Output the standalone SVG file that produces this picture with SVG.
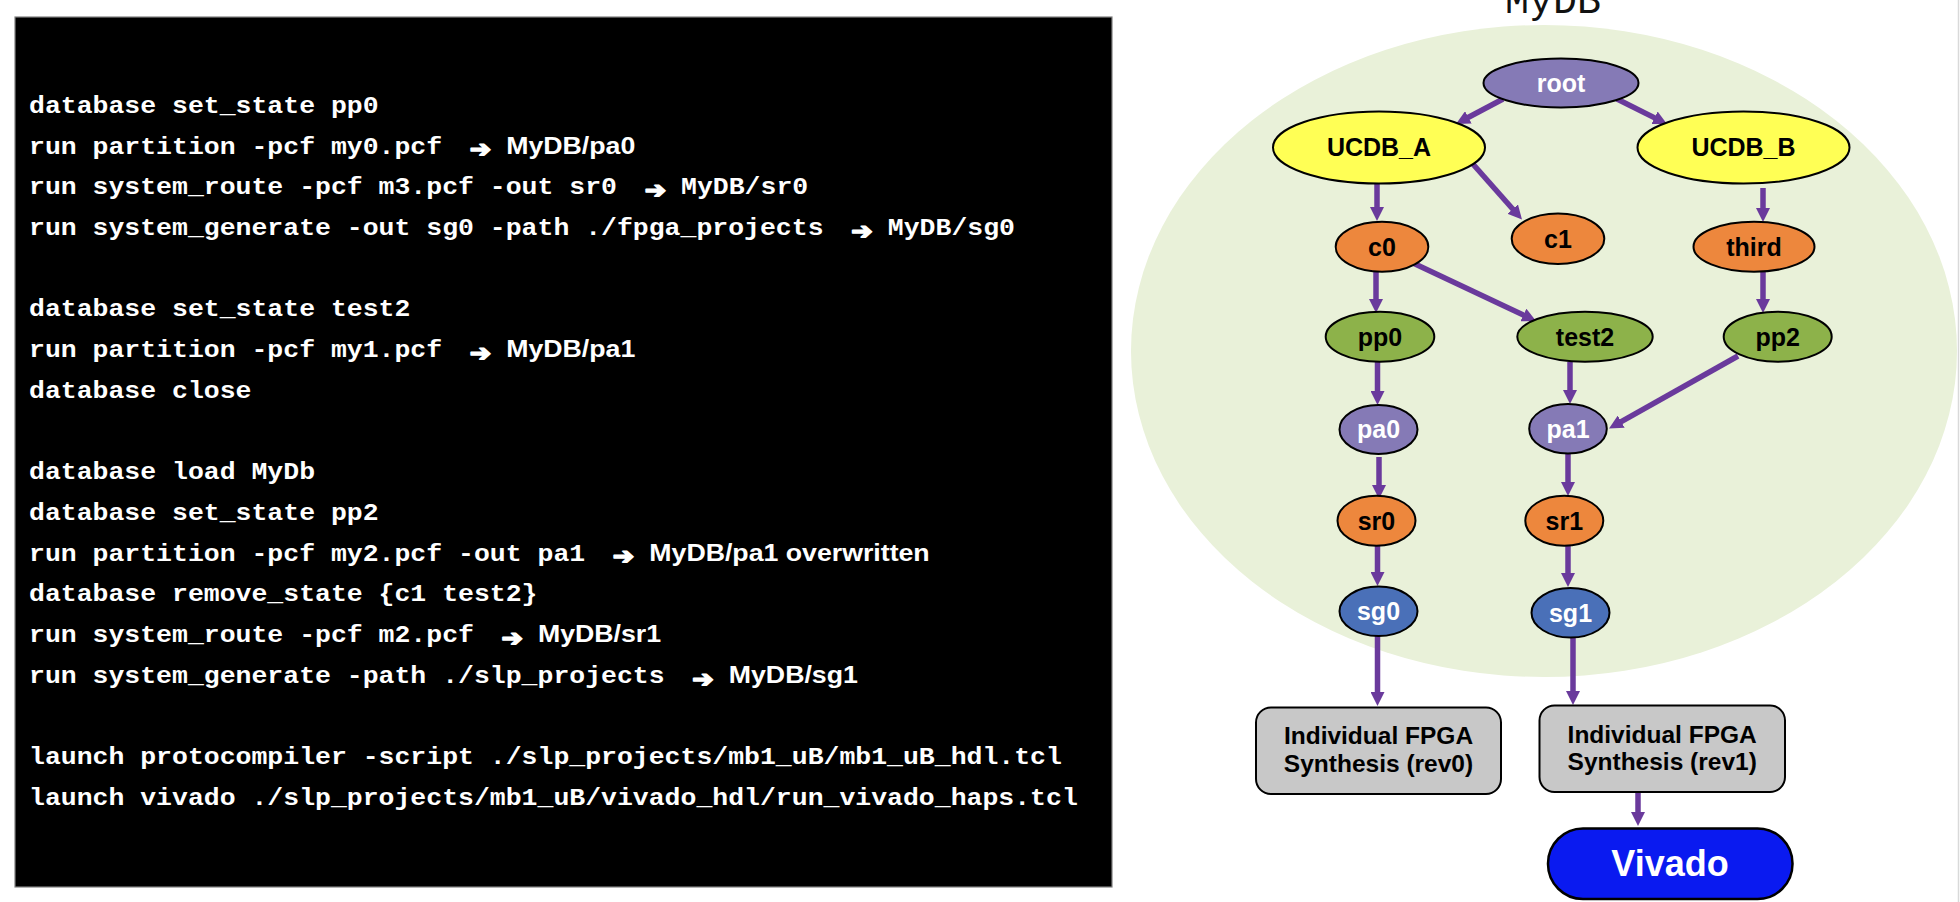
<svg xmlns="http://www.w3.org/2000/svg" width="1960" height="902" viewBox="0 0 1960 902">
<defs>
<style>
.mono{font-family:"Liberation Mono","Courier New",monospace;font-weight:bold;font-size:23.8px;fill:#fff}
.sans{font-family:"Liberation Sans",Arial,sans-serif;font-weight:bold;font-size:24px}
.arr{font-family:"DejaVu Sans",sans-serif;font-weight:bold;font-size:23px;fill:#fff;stroke:#fff;stroke-width:1.6;stroke-linejoin:round}
.node{stroke:#000;stroke-width:2}
.lbl{font-family:"Liberation Sans",Arial,sans-serif;font-weight:bold;font-size:25px;text-anchor:middle}
.box{font-size:24.5px}
.big{font-size:36px}
.w{fill:#fff}.k{fill:#000}
.purple{fill:#857AB6}.yellow{fill:#FFFF55}.orange{fill:#ED873D}.green{fill:#8DB24A}.blue{fill:#4A70B8}
.edge{stroke:#6A3A9C;stroke-width:5.5;fill:none;marker-end:url(#ah)}
</style>
<marker id="ah" viewBox="0 -7 14 14" refX="3" refY="0" markerWidth="14" markerHeight="14" markerUnits="userSpaceOnUse" orient="auto">
<path d="M0,-7 L14,0 L0,7 z" fill="#6A3A9C"/>
</marker>
</defs>
<rect width="1960" height="902" fill="#fff"/>
<line x1="1958.5" y1="0" x2="1958.5" y2="902" stroke="#d9d9d9" stroke-width="1.5"/>

<g id="commands">
<rect x="15" y="17" width="1097" height="870" fill="#000" stroke="#808080" stroke-width="1.2"/>
<g transform="matrix(1.113 0 0 1 0 0)">
<text class="mono" x="26.06" y="113">database set_state pp0</text>
<text class="mono" x="26.06" y="153.7">run partition -pcf my0.pcf<tspan class="sans" x="454.8">MyDB/pa0</tspan></text>
<text class="mono" x="26.06" y="194.4">run system_route -pcf m3.pcf -out sr0<tspan x="611.9">MyDB/sr0</tspan></text>
<text class="mono" x="26.06" y="235.1">run system_generate -out sg0 -path ./fpga_projects<tspan x="797.7">MyDB/sg0</tspan></text>
<text class="mono" x="26.06" y="316.5">database set_state test2</text>
<text class="mono" x="26.06" y="357.2">run partition -pcf my1.pcf<tspan class="sans" x="454.8">MyDB/pa1</tspan></text>
<text class="mono" x="26.06" y="397.9">database close</text>
<text class="mono" x="26.06" y="479.3">database load MyDb</text>
<text class="mono" x="26.06" y="520">database set_state pp2</text>
<text class="mono" x="26.06" y="560.7">run partition -pcf my2.pcf -out pa1<tspan class="sans" x="583.4">MyDB/pa1 overwritten</tspan></text>
<text class="mono" x="26.06" y="601.4">database remove_state {c1 test2}</text>
<text class="mono" x="26.06" y="642.1">run system_route -pcf m2.pcf<tspan class="sans" x="483.3">MyDB/sr1</tspan></text>
<text class="mono" x="26.06" y="682.8">run system_generate -path ./slp_projects<tspan class="sans" x="654.8">MyDB/sg1</tspan></text>
<text class="mono" x="26.06" y="764.2">launch protocompiler -script ./slp_projects/mb1_uB/mb1_uB_hdl.tcl</text>
<text class="mono" x="26.06" y="804.9">launch vivado ./slp_projects/mb1_uB/vivado_hdl/run_vivado_haps.tcl</text>
<text class="arr" x="422" y="157.5">➔</text>
<text class="arr" x="579.2" y="198.2">➔</text>
<text class="arr" x="764.9" y="238.9">➔</text>
<text class="arr" x="422" y="361">➔</text>
<text class="arr" x="550.6" y="564.5">➔</text>
<text class="arr" x="450.6" y="645.9">➔</text>
<text class="arr" x="622" y="686.6">➔</text>
</g>
</g>

<g id="mydb">
<ellipse cx="1544" cy="351" rx="413" ry="326" fill="#E9F1D9"/>
<text x="1553" y="13" text-anchor="middle" font-family="Liberation Mono, Courier New, monospace" font-size="40" fill="#111">MyDB</text>
</g>

<g id="connectors">
<line class="edge" x1="1503" y1="99" x2="1465.7" y2="118.8"/>
<line class="edge" x1="1617" y1="99" x2="1657.2" y2="119.1"/>
<line class="edge" x1="1377" y1="184" x2="1377" y2="210"/>
<line class="edge" x1="1472" y1="163" x2="1514.7" y2="211.3"/>
<line class="edge" x1="1376" y1="272" x2="1376" y2="302"/>
<line class="edge" x1="1413" y1="263" x2="1526.1" y2="316.3"/>
<line class="edge" x1="1377.5" y1="362" x2="1377.5" y2="394"/>
<line class="edge" x1="1570" y1="362" x2="1570" y2="393"/>
<line class="edge" x1="1763" y1="188" x2="1763" y2="211"/>
<line class="edge" x1="1763" y1="272" x2="1763" y2="302"/>
<line class="edge" x1="1738" y1="356" x2="1618.6" y2="423.1"/>
<line class="edge" x1="1379" y1="457" x2="1379" y2="488"/>
<line class="edge" x1="1568" y1="454" x2="1568" y2="485"/>
<line class="edge" x1="1377.5" y1="546" x2="1377.5" y2="575"/>
<line class="edge" x1="1568" y1="546" x2="1568" y2="576"/>
<line class="edge" x1="1377.5" y1="636" x2="1377.5" y2="695"/>
<line class="edge" x1="1573" y1="637.5" x2="1573" y2="694"/>
<line class="edge" x1="1638" y1="792" x2="1638" y2="815"/>
</g>

<g id="root"><ellipse class="node purple" cx="1561" cy="83" rx="77.5" ry="24.5"/><text class="lbl w" x="1561" y="91.8">root</text></g>
<g id="UCDB_A"><ellipse class="node yellow" cx="1379" cy="147.5" rx="106" ry="36"/><text class="lbl k" x="1379" y="156.3">UCDB_A</text></g>
<g id="UCDB_B"><ellipse class="node yellow" cx="1743.5" cy="147.5" rx="106" ry="36"/><text class="lbl k" x="1743.5" y="156.3">UCDB_B</text></g>
<g id="c0"><ellipse class="node orange" cx="1382" cy="246.7" rx="46.3" ry="25"/><text class="lbl k" x="1382" y="255.5">c0</text></g>
<g id="c1"><ellipse class="node orange" cx="1558" cy="238.7" rx="46.3" ry="25.3"/><text class="lbl k" x="1558" y="247.5">c1</text></g>
<g id="third"><ellipse class="node orange" cx="1754" cy="246.7" rx="60.5" ry="25"/><text class="lbl k" x="1754" y="255.5">third</text></g>
<g id="pp0"><ellipse class="node green" cx="1380" cy="336.7" rx="54.3" ry="25"/><text class="lbl k" x="1380" y="345.5">pp0</text></g>
<g id="test2"><ellipse class="node green" cx="1585" cy="336.7" rx="67.7" ry="25"/><text class="lbl k" x="1585" y="345.5">test2</text></g>
<g id="pp2"><ellipse class="node green" cx="1777.7" cy="336.7" rx="54" ry="25"/><text class="lbl k" x="1777.7" y="345.5">pp2</text></g>
<g id="pa0"><ellipse class="node purple" cx="1378.5" cy="429.5" rx="39" ry="24.5"/><text class="lbl w" x="1378.5" y="438.3">pa0</text></g>
<g id="pa1"><ellipse class="node purple" cx="1568" cy="428.7" rx="38.8" ry="24.7"/><text class="lbl w" x="1568" y="437.5">pa1</text></g>
<g id="sr0"><ellipse class="node orange" cx="1376.5" cy="520.7" rx="39" ry="25"/><text class="lbl k" x="1376.5" y="529.5">sr0</text></g>
<g id="sr1"><ellipse class="node orange" cx="1564.3" cy="520.7" rx="39" ry="25"/><text class="lbl k" x="1564.3" y="529.5">sr1</text></g>
<g id="sg0"><ellipse class="node blue" cx="1378.5" cy="611.3" rx="39" ry="24.7"/><text class="lbl w" x="1378.5" y="620.1">sg0</text></g>
<g id="sg1"><ellipse class="node blue" cx="1570.5" cy="612.8" rx="39" ry="24.7"/><text class="lbl w" x="1570.5" y="621.6">sg1</text></g>

<g id="synth_rev0"><rect x="1256" y="707.5" width="245" height="86.5" rx="15" fill="#C8C8C8" stroke="#000" stroke-width="2"/>
<text class="lbl box k" x="1378.5" y="744.3">Individual FPGA</text><text class="lbl box k" x="1378.5" y="771.7">Synthesis (rev0)</text></g>
<g id="synth_rev1"><rect x="1539.5" y="705.5" width="245.5" height="86.5" rx="15" fill="#C8C8C8" stroke="#000" stroke-width="2"/>
<text class="lbl box k" x="1662.2" y="742.7">Individual FPGA</text><text class="lbl box k" x="1662.2" y="770.3">Synthesis (rev1)</text></g>
<g id="vivado"><rect x="1548" y="828.5" width="244.5" height="70.5" rx="35" fill="#0A1AF0" stroke="#000" stroke-width="2.5"/>
<text class="lbl big w" x="1670" y="876">Vivado</text></g>
</svg>
